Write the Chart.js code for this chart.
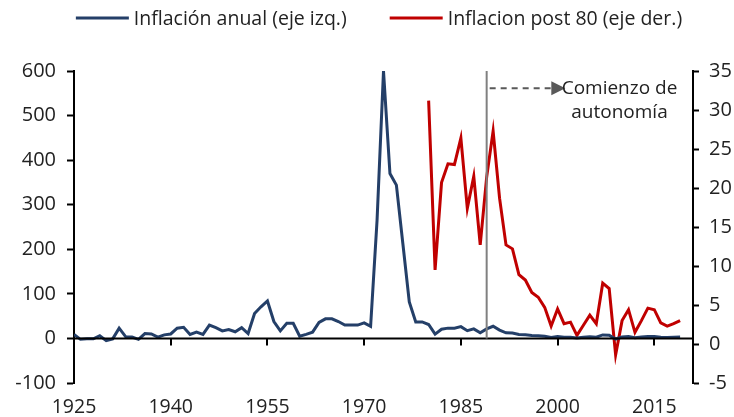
<!DOCTYPE html>
<html>
<head>
<meta charset="utf-8">
<script src="https://cdn.jsdelivr.net/npm/chart.js@4.4.1/dist/chart.umd.min.js"></script>
<style>
  html, body { margin: 0; padding: 0; background: #fff; }
  #wrap { width: 734px; height: 417px; }
</style>
</head>
<body>
<div id="wrap"><canvas id="chart" width="734" height="417"></canvas></div>
<script>
// años
const firstYear = 1925;
const lastYear = 2019;
const years = [];
for (let y = firstYear; y <= lastYear; y++) years.push(y);

// inflación anual (eje izq.), 1925-2019
const inflAnual = [
  9, -2, -1, -1, 6, -5, -1, 23, 4, 3,
  -2, 11, 10, 3, 8, 10, 23, 25, 9, 14,
  9, 30, 24, 17, 20, 15, 24, 11, 56, 71,
  84, 38, 17, 34, 34, 5, 9, 14, 36, 44,
  44, 38, 30, 30, 30, 35, 27, 265, 600, 370,
  344, 213, 82, 37, 37, 31.2, 9.5, 20.7, 23.1, 23.0,
  26.4, 17.4, 21.5, 12.7, 21.4, 27.3, 18.7, 12.7, 12.2, 8.9,
  8.2, 6.6, 6.0, 4.7, 2.3, 4.5, 2.6, 2.8, 1.1, 2.4,
  3.7, 2.6, 7.8, 7.1, -1.4, 3.0, 4.4, 1.5, 3.0, 4.6,
  4.4, 2.7, 2.3, 2.6, 3.0
];

// inflacion post 80 (eje der.), 1980-2019
const post80Start = 1980;
const inflPost80 = [
  31.2, 9.5, 20.7, 23.1, 23.0, 26.4, 17.4, 21.5, 12.7, 21.4,
  27.3, 18.7, 12.7, 12.2, 8.9, 8.2, 6.6, 6.0, 4.7, 2.3,
  4.5, 2.6, 2.8, 1.1, 2.4, 3.7, 2.6, 7.8, 7.1, -1.4,
  3.0, 4.4, 1.5, 3.0, 4.6, 4.4, 2.7, 2.3, 2.6, 3.0
];

const xTicks = [1925, 1940, 1955, 1970, 1985, 2000, 2015];
const autonomiaYear = 1989;

const blue = '#243F68';
const red = '#C00000';
const txt = '#222222';
const fontFam = "'Open Sans', 'DejaVu Sans', sans-serif";

const bluePts = years.map((y, i) => ({x: y, y: inflAnual[i]}));
const redPts = inflPost80.map((v, i) => ({x: post80Start + i, y: v}));

// leyenda propia: la de Chart.js no deja separar los items sin agrandar el alto
const legendPlugin = {
  id: 'legendLine',
  afterDraw(chart) {
    const ctx = chart.ctx;
    const sets = chart.data.datasets;
    const lineW = 53, gapTxt = 5, gapItem = 43, yMid = 18;
    ctx.save();
    ctx.font = '19.5px ' + fontFam;
    const widths = sets.map(d => lineW + gapTxt + ctx.measureText(d.label).width);
    const total = widths.reduce((a, b) => a + b, 0) + gapItem * (sets.length - 1);
    let x = 379 - total / 2;
    sets.forEach((d, i) => {
      ctx.strokeStyle = d.borderColor;
      ctx.lineWidth = 3;
      ctx.beginPath();
      ctx.moveTo(x, yMid);
      ctx.lineTo(x + lineW, yMid);
      ctx.stroke();
      ctx.fillStyle = txt;
      ctx.textAlign = 'left';
      ctx.textBaseline = 'middle';
      ctx.fillText(d.label, x + lineW + gapTxt, yMid + 1);
      x += widths[i] + gapItem;
    });
    ctx.restore();
  }
};

const extras = {
  id: 'extras',
  afterDatasetsDraw(chart) {
    const {ctx, chartArea, scales} = chart;
    const xs = scales.x, yl = scales.yL, yr = scales.yR;
    const y0 = yl.getPixelForValue(0);
    ctx.save();
    // linea cero + marcas del eje x
    ctx.strokeStyle = '#000';
    ctx.lineWidth = 2;
    ctx.beginPath();
    ctx.moveTo(chartArea.left, y0);
    ctx.lineTo(chartArea.right, y0);
    xTicks.forEach(v => {
      const px = Math.round(xs.getPixelForValue(v));
      ctx.moveTo(px, y0);
      ctx.lineTo(px, y0 + 7);
    });
    ctx.stroke();

    // linea vertical autonomia
    const xa = xs.getPixelForValue(autonomiaYear);
    ctx.strokeStyle = '#808080';
    ctx.lineWidth = 2;
    ctx.beginPath();
    ctx.moveTo(xa, chartArea.top);
    ctx.lineTo(xa, y0);
    ctx.stroke();

    // flecha
    const ya = yr.getPixelForValue(32.8);
    const tip = xs.getPixelForValue(2001.2);
    ctx.strokeStyle = '#595959';
    ctx.setLineDash([6, 5]);
    ctx.beginPath();
    ctx.moveTo(xa + 3, ya);
    ctx.lineTo(tip - 12, ya);
    ctx.stroke();
    ctx.setLineDash([]);
    ctx.fillStyle = '#595959';
    ctx.beginPath();
    ctx.moveTo(tip, ya);
    ctx.lineTo(tip - 14, ya - 7);
    ctx.lineTo(tip - 14, ya + 7);
    ctx.closePath();
    ctx.fill();

    // texto
    const xt = xs.getPixelForValue(2009.6);
    ctx.fillStyle = txt;
    ctx.font = '19px ' + fontFam;
    ctx.textAlign = 'center';
    ctx.textBaseline = 'middle';
    ctx.fillText('Comienzo de', xt, ya);
    ctx.fillText('autonomía', xt, ya + 24);
    ctx.restore();
  }
};

new Chart(document.getElementById('chart').getContext('2d'), {
  type: 'line',
  data: {
    datasets: [{
      label: 'Inflación anual (eje izq.)',
      data: bluePts,
      borderColor: blue,
      backgroundColor: blue,
      borderWidth: 3,
      pointRadius: 0,
      tension: 0,
      yAxisID: 'yL'
    }, {
      label: 'Inflacion post 80 (eje der.)',
      data: redPts,
      borderColor: red,
      backgroundColor: red,
      borderWidth: 3,
      pointRadius: 0,
      tension: 0,
      yAxisID: 'yR'
    }]
  },
  options: {
    responsive: false,
    animation: false,
    layout: { padding: { top: 71, left: 0, right: 0, bottom: 0 } },
    plugins: {
      legend: { display: false },
      tooltip: { enabled: false }
    },
    scales: {
      x: {
        type: 'linear',
        min: 1925,
        max: 2021,
        position: 'bottom',
        grid: { display: false },
        border: { display: false },
        afterBuildTicks: s => { s.ticks = xTicks.map(v => ({value: v})); },
        afterFit: s => { s.height = 34; },
        ticks: {
          color: txt,
          padding: 5,
          maxRotation: 0,
          autoSkip: false,
          font: { size: 19.5, family: fontFam },
          callback: v => String(v)
        }
      },
      yL: {
        position: 'left',
        min: -100,
        max: 600,
        afterFit: s => { s.width = 74; },
        border: { display: true, color: '#000', width: 2 },
        grid: { drawOnChartArea: false, color: '#000', tickLength: 7, tickWidth: 2 },
        ticks: { stepSize: 100, color: txt, padding: 11, font: { size: 20, family: fontFam } }
      },
      yR: {
        position: 'right',
        min: -5,
        max: 35,
        afterFit: s => { s.width = 41; },
        border: { display: true, color: '#000', width: 2 },
        grid: { drawOnChartArea: false, color: '#000', tickLength: 6, tickWidth: 2 },
        ticks: { stepSize: 5, color: txt, padding: 10, font: { size: 20, family: fontFam } }
      }
    }
  },
  plugins: [extras, legendPlugin]
});
</script>
</body>
</html>
